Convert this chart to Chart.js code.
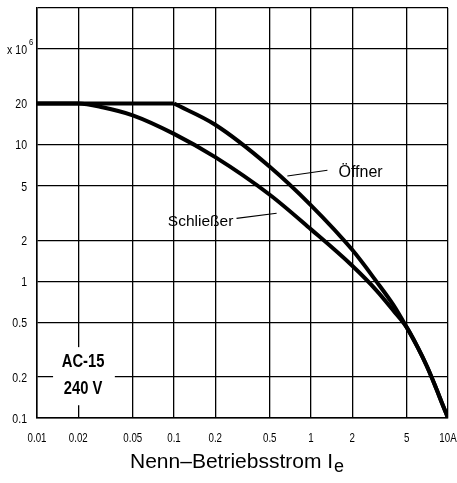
<!DOCTYPE html>
<html>
<head>
<meta charset="utf-8">
<script src="https://cdn.jsdelivr.net/npm/chart.js@4.4.1/dist/chart.umd.min.js"></script>
<style>
  html, body { margin: 0; padding: 0; background: #fff; }
</style>
</head>
<body>
<canvas id="grafico" width="457" height="483"></canvas>
<script>
'use strict';

// Strom (A) und Schaltspiele (x 10^6)
const STROM_OEFFNER = [0.01, 0.1, 0.2, 0.5, 1, 2, 3, 4, 5, 6, 7, 8, 9, 10];
const SPIELE_OEFFNER = [20, 20, 14, 6.9, 3.6, 1.7, 1.0, 0.67, 0.46, 0.33, 0.24, 0.175, 0.13, 0.1];

const STROM_SCHLIESSER = [0.01, 0.02, 0.03, 0.05, 0.1, 0.2, 0.5, 1, 2, 3, 4, 5, 6, 7, 8, 9, 10];
const SPIELE_SCHLIESSER = [20, 20, 18.8, 16.4, 12, 8.1, 4.3, 2.4, 1.3, 0.86, 0.61, 0.46, 0.33, 0.24, 0.175, 0.13, 0.1];

const TICKS_X = [0.01, 0.02, 0.05, 0.1, 0.2, 0.5, 1, 2, 5, 10];
const LABELS_X = ['0.01', '0.02', '0.05', '0.1', '0.2', '0.5', '1', '2', '5', '10A'];
const TICKS_Y = [0.1, 0.2, 0.5, 1, 2, 5, 10, 20, 50, 100];
const LABELS_Y = ['0.1', '0.2', '0.5', '1', '2', '5', '10', '20', 'x 10', ''];

const SCHRIFT = "'Liberation Sans', Arial, sans-serif";

function punkte(xs, ys) {
    return xs.map((x, i) => ({ x: x, y: ys[i] }));
}

// schmale Schrift durch horizontale Stauchung
function textSchmal(ctx, text, x, y, align, faktor) {
    ctx.save();
    ctx.translate(x, y);
    ctx.scale(faktor, 1);
    ctx.textAlign = align;
    ctx.fillText(text, 0, 0);
    ctx.restore();
}

// Achsenbeschriftung, Textfelder, Hinweislinien, Achsentitel
const beschriftung = {
    id: 'beschriftung',
    afterDatasetsDraw(chart) {
        const ctx = chart.ctx;
        const sx = chart.scales.x;
        const sy = chart.scales.y;
        const px = v => sx.getPixelForValue(v);
        const py = v => sy.getPixelForValue(v);
        const area = chart.chartArea;

        ctx.save();
        ctx.fillStyle = '#000';
        ctx.strokeStyle = '#000';

        // Teilstriche
        ctx.font = '13.5px ' + SCHRIFT;
        ctx.textBaseline = 'middle';
        TICKS_X.forEach((v, i) => {
            textSchmal(ctx, LABELS_X[i], px(v), area.bottom + 20, 'center', 0.72);
        });
        TICKS_Y.forEach((v, i) => {
            if (LABELS_Y[i]) textSchmal(ctx, LABELS_Y[i], area.left - 10, py(v) + 1, 'right', 0.78);
        });
        ctx.font = '9px ' + SCHRIFT;
        textSchmal(ctx, '6', area.left - 8, py(50) - 7, 'left', 0.85);

        // Öffner
        ctx.lineWidth = 1.2;
        ctx.beginPath();
        ctx.moveTo(px(0.672), py(5.9));
        ctx.lineTo(px(1.318), py(6.5));
        ctx.stroke();
        ctx.font = '16px ' + SCHRIFT;
        ctx.textBaseline = 'alphabetic';
        ctx.textAlign = 'left';
        ctx.fillText('Öffner', px(1.586), py(5.8));

        // Schließer
        ctx.beginPath();
        ctx.moveTo(px(0.286), py(2.89));
        ctx.lineTo(px(0.561), py(3.15));
        ctx.stroke();
        ctx.font = '15.5px ' + SCHRIFT;
        ctx.textAlign = 'right';
        ctx.fillText('Schließer', px(0.271), py(2.54));

        // AC-15 / 240 V
        const x0 = px(0.0131), x1 = px(0.037);
        const y0 = py(0.33), y1 = py(0.124);
        ctx.fillStyle = '#fff';
        ctx.fillRect(x0, y0, x1 - x0, y1 - y0);
        ctx.fillStyle = '#000';
        ctx.font = 'bold 18px ' + SCHRIFT;
        ctx.textBaseline = 'middle';
        textSchmal(ctx, 'AC-15', px(0.0217), py(0.255), 'center', 0.82);
        textSchmal(ctx, '240 V', px(0.0217), py(0.162), 'center', 0.82);

        // Achsentitel mit Index
        const titel = 'Nenn\u2013Betriebsstrom I';
        ctx.font = '21px ' + SCHRIFT;
        const b1 = ctx.measureText(titel).width;
        const start = area.left + 93;
        ctx.textAlign = 'left';
        ctx.textBaseline = 'alphabetic';
        ctx.fillText(titel, start, 468);
        ctx.font = '18px ' + SCHRIFT;
        ctx.fillText('e', start + b1 + 1, 472);
        ctx.restore();
    }
};

function crearGrafico() {
    const canvas = document.getElementById('grafico');
    const linie = {
        borderColor: '#000',
        borderWidth: 4,
        pointRadius: 0,
        cubicInterpolationMode: 'monotone',
        borderCapStyle: 'butt',
        fill: false
    };

    new Chart(canvas, {
        type: 'line',
        data: {
            datasets: [{
                ...linie,
                label: 'Öffner',
                data: punkte(STROM_OEFFNER.slice(0, 2), SPIELE_OEFFNER.slice(0, 2))
            }, {
                ...linie,
                label: 'Öffner',
                data: punkte(STROM_OEFFNER.slice(1), SPIELE_OEFFNER.slice(1))
            }, {
                ...linie,
                label: 'Schließer',
                data: punkte(STROM_SCHLIESSER, SPIELE_SCHLIESSER)
            }]
        },
        options: {
            responsive: false,
            animation: false,
            layout: { padding: { top: 8, right: 9, left: 0, bottom: 0 } },
            plugins: {
                legend: { display: false },
                tooltip: { enabled: false }
            },
            scales: {
                x: {
                    type: 'logarithmic',
                    min: 0.01,
                    max: 10,
                    afterBuildTicks: s => { s.ticks = TICKS_X.map(v => ({ value: v })); },
                    afterFit: s => { s.height = 65; },
                    ticks: { display: false },
                    grid: { color: '#000', lineWidth: 1.3, drawTicks: false },
                    border: { color: '#000', width: 1.5 }
                },
                y: {
                    type: 'logarithmic',
                    min: 0.1,
                    max: 100,
                    afterBuildTicks: s => { s.ticks = TICKS_Y.map(v => ({ value: v })); },
                    afterFit: s => { s.width = 37; },
                    ticks: { display: false },
                    grid: { color: '#000', lineWidth: 1.3, drawTicks: false },
                    border: { color: '#000', width: 1.5 }
                }
            }
        },
        plugins: [beschriftung]
    });
}

document.addEventListener('DOMContentLoaded', crearGrafico);
</script>
</body>
</html>
